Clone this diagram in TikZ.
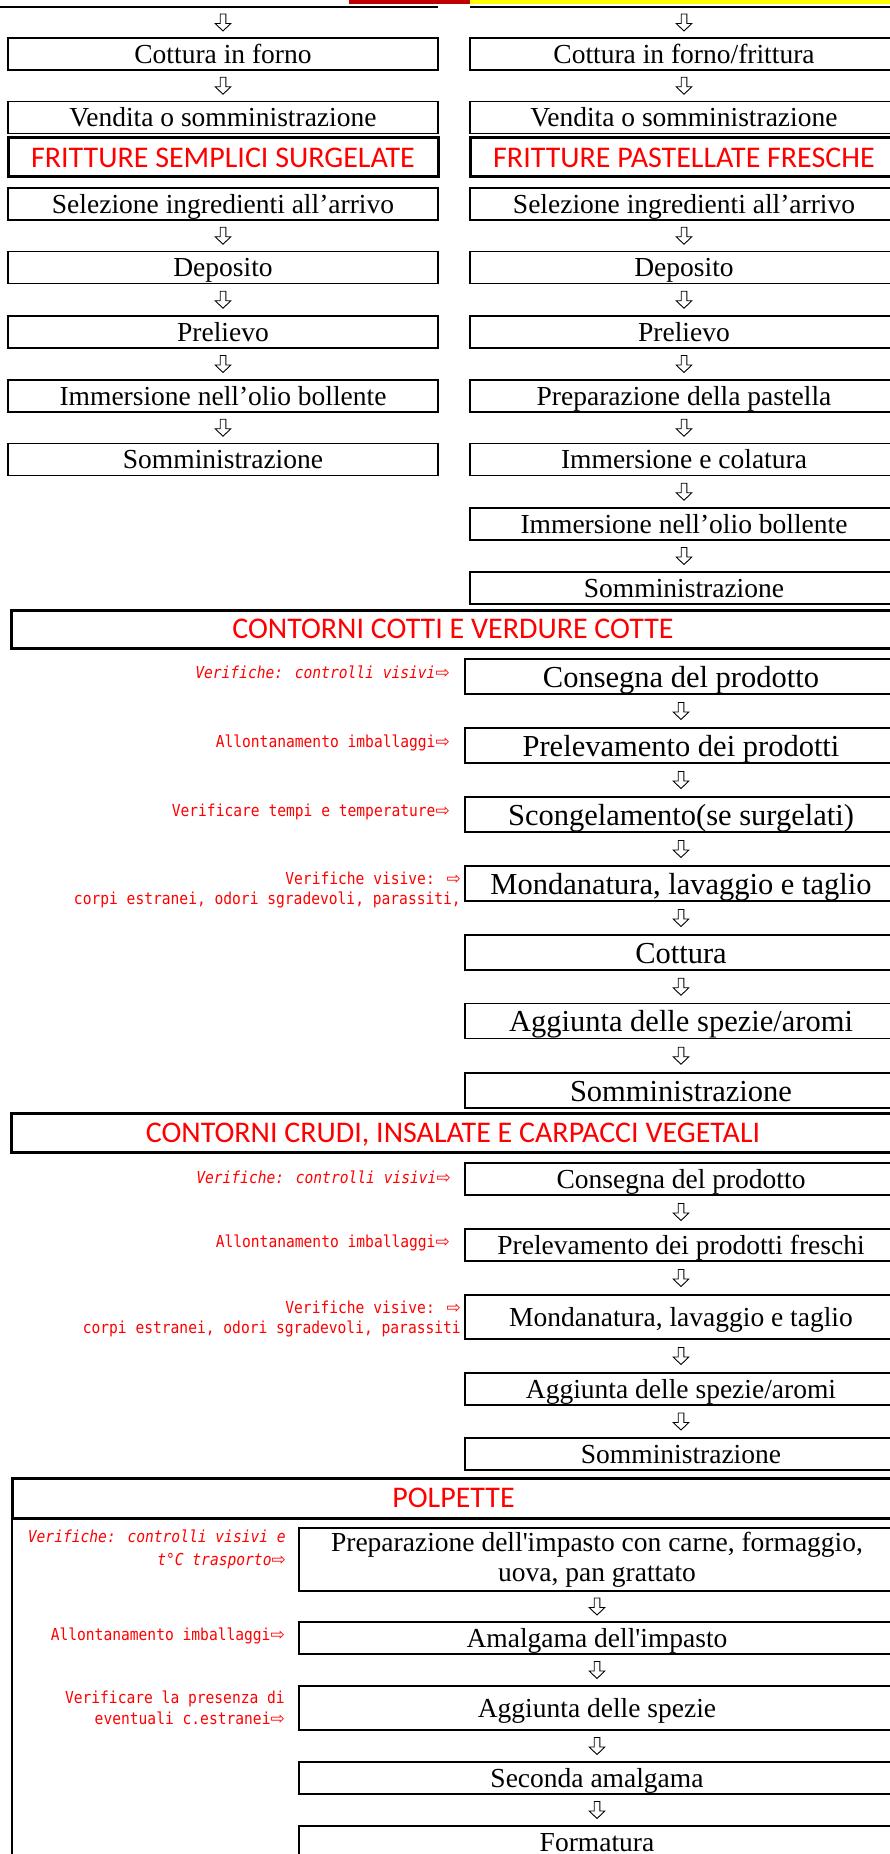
\documentclass[tikz,border=0pt]{standalone}
\usepackage{fontspec}
\setmainfont{Liberation Serif}
\newfontfamily\titlefont{Carlito}
\newfontfamily\notefont[FakeStretch=0.885]{DejaVu Sans Mono}
\newfontfamily\symbfont{DejaVu Sans}
\usetikzlibrary{calc}

\definecolor{barred}{RGB}{192,0,0}
\definecolor{baryellow}{RGB}{255,255,0}

\newcommand{\rarr}{{\symbfont\fontsize{17}{17}\selectfont ⇨}}
\newcommand{\flow}[2]{\pic at ($(#1.south)!.5!(#2.north)$) {darr};}

\tikzset{
  frame/.style={draw, line width=1.7pt, inner sep=0pt, outer sep=0pt},
  stage/.style={frame, minimum height=32pt, text height=22pt, text depth=3.5pt,
    font=\fontsize{27.5}{30}\selectfont},
  bigstage/.style={stage, minimum height=35pt, text height=24.4pt, text depth=3.4pt,
    font=\fontsize{30.5}{33}\selectfont},
  header/.style={draw, line width=3pt, inner sep=0pt, outer sep=0pt, text=red,
    text height=19.3pt, text depth=0pt, font=\titlefont\fontsize{30}{34}\selectfont},
  note/.style={anchor=east, inner sep=0pt, text=red, align=right,
    font=\notefont\fontsize{16.5}{20}\selectfont},
  lcol/.style={minimum width=430pt},
  rcol/.style={minimum width=428pt},
  ccol/.style={minimum width=432pt},
  pcol/.style={minimum width=596pt},
  darr/.pic={
    \draw[line width=0.9pt] (-2.8,-8.5) -- (2.8,-8.5) -- (2.8,1) -- (7.8,1)
      -- (0,8.5) -- (-7.8,1) -- (-2.8,1) -- cycle;
  }
}

\begin{document}
\begin{tikzpicture}[x=1pt, y=-1pt]
\useasboundingbox (0,0) rectangle (890,1854);
\clip (0,0) rectangle (890,1854);

% page band and previous boxes
\fill[barred] (349,0) rectangle (470,4);
\fill[baryellow] (470,0) rectangle (890,4);
\draw[line width=2pt] (0,7) -- (438,7);
\draw[line width=2pt] (470,7) -- (890,7);
\coordinate (topL) at (223,7);
\coordinate (topR) at (684,7);

% left column
\node[stage, lcol] (l1) at (223,54) {Cottura in forno};
\node[stage, lcol] (l2) at (223,117.5) {Vendita o somministrazione};
\node[header, lcol, minimum height=39pt] (lh) at (223,157.5) {FRITTURE SEMPLICI SURGELATE};
\node[stage, lcol] (l3) at (223,204) {Selezione ingredienti all’arrivo};
\node[stage, lcol] (l4) at (223,267.5) {Deposito};
\node[stage, lcol] (l5) at (223,332) {Prelievo};
\node[stage, lcol] (l6) at (223,396) {Immersione nell’olio bollente};
\node[stage, lcol] (l7) at (223,459.5) {Somministrazione};

% right column
\node[stage, rcol] (r1) at (684,54) {Cottura in forno/frittura};
\node[stage, rcol] (r2) at (684,117.5) {Vendita o somministrazione};
\node[header, rcol, minimum height=39pt] (rh) at (684,157.5) {FRITTURE PASTELLATE FRESCHE};
\node[stage, rcol] (r3) at (684,204) {Selezione ingredienti all’arrivo};
\node[stage, rcol] (r4) at (684,267.5) {Deposito};
\node[stage, rcol] (r5) at (684,332) {Prelievo};
\node[stage, rcol] (r6) at (684,396) {Preparazione della pastella};
\node[stage, rcol] (r7) at (684,459.5) {Immersione e colatura};
\node[stage, rcol] (r8) at (684,524) {Immersione nell’olio bollente};
\node[stage, rcol] (r9) at (684,588) {Somministrazione};

\pic at ($(topL)!.5!(l1.north)$) {darr};
\pic at ($(topR)!.5!(r1.north)$) {darr};
\flow{l1}{l2} \flow{l3}{l4} \flow{l4}{l5} \flow{l5}{l6} \flow{l6}{l7}
\flow{r1}{r2} \flow{r3}{r4} \flow{r4}{r5} \flow{r5}{r6} \flow{r6}{r7}
\flow{r7}{r8} \flow{r8}{r9}

% contorni cotti
\node[header, minimum width=884pt, minimum height=38pt] (cotti) at (453,629) {CONTORNI COTTI E VERDURE COTTE};
\node[bigstage, ccol] (c1) at (681,676.5) {Consegna del prodotto};
\node[bigstage, ccol] (c2) at (681,745.5) {Prelevamento dei prodotti};
\node[bigstage, ccol] (c3) at (681,814.5) {Scongelamento(se surgelati)};
\node[bigstage, ccol] (c4) at (681,883.5) {Mondanatura, lavaggio e taglio};
\node[bigstage, ccol] (c5) at (681,952.5) {Cottura};
\node[bigstage, ccol] (c6) at (681,1021) {Aggiunta delle spezie/aromi};
\node[bigstage, ccol] (c7) at (681,1090.5) {Somministrazione};
\foreach \a/\b in {c1/c2,c2/c3,c3/c4,c4/c5,c5/c6,c6/c7} {\flow{\a}{\b}}

\node[note, font=\notefont\itshape\fontsize{16.5}{20}\selectfont] (cn1) at (450,672) {Verifiche: controlli visivi\rarr};
\node[note] (cn2) at (450,743) {Allontanamento imballaggi\rarr};
\node[note] (cn3) at (450,812) {Verificare tempi e temperature\rarr};
\node[note] (cn4) at (461,890) {Verifiche visive: \rarr\\corpi estranei, odori sgradevoli, parassiti,};

% contorni crudi
\node[header, minimum width=884pt, minimum height=39pt] (crudi) at (453,1132.5) {CONTORNI CRUDI, INSALATE E CARPACCI VEGETALI};
\node[stage, ccol] (k1) at (681,1179) {Consegna del prodotto};
\node[stage, ccol] (k2) at (681,1245) {Prelevamento dei prodotti freschi};
\node[stage, ccol, minimum height=44pt] (k3) at (681,1317) {Mondanatura, lavaggio e taglio};
\node[stage, ccol] (k4) at (681,1389) {Aggiunta delle spezie/aromi};
\node[stage, ccol] (k5) at (681,1454) {Somministrazione};
\foreach \a/\b in {k1/k2,k2/k3,k3/k4,k4/k5} {\flow{\a}{\b}}

\node[note, font=\notefont\itshape\fontsize{16.5}{20}\selectfont] (kn1) at (451,1177) {Verifiche: controlli visivi\rarr};
\node[note] (kn2) at (450,1243) {Allontanamento imballaggi\rarr};
\node[note] (kn3) at (461,1319) {Verifiche visive:  \rarr\\corpi estranei, odori sgradevoli, parassiti};

% polpette
\node[header, minimum width=883pt, minimum height=40pt] (polp) at (453.5,1498) {POLPETTE};
\draw[line width=1.7pt] (polp.south west) -- ++(0,340);
\node[frame, pcol, minimum height=63pt, align=center, font=\fontsize{27.5}{30}\selectfont] (p1) at (597,1559.5)
  {Preparazione dell\textquotesingle impasto con carne, formaggio,\\uova, pan grattato};
\node[stage, pcol] (p2) at (597,1638) {Amalgama dell\textquotesingle impasto};
\node[stage, pcol, minimum height=44pt] (p3) at (597,1708) {Aggiunta delle spezie};
\node[stage, pcol] (p4) at (597,1778) {Seconda amalgama};
\node[stage, pcol] (p5) at (597,1842) {Formatura};
\foreach \a/\b in {p1/p2,p2/p3,p3/p4,p4/p5} {\flow{\a}{\b}}

\node[note, font=\notefont\itshape\fontsize{16.5}{23}\selectfont] (pn1) at (286,1549.5) {Verifiche: controlli visivi e\\t°C trasporto\rarr};
\node[note] (pn2) at (285,1636) {Allontanamento imballaggi\rarr};
\node[note, font=\notefont\fontsize{16.5}{21}\selectfont] (pn3) at (285,1707.5) {Verificare la presenza di\\eventuali c.estranei\rarr};
\end{tikzpicture}
\end{document}
